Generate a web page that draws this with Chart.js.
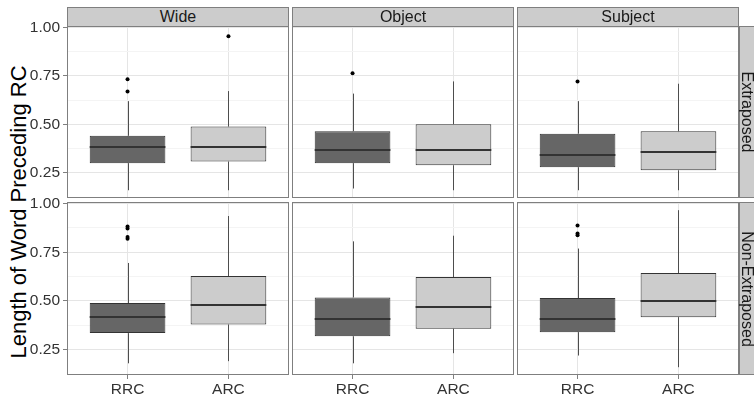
<!DOCTYPE html>
<html>
<head>
<meta charset="utf-8">
<script src="https://cdn.jsdelivr.net/npm/chart.js@4/dist/chart.umd.min.js"></script>
<style>
  body { margin: 0; background: #fff; font-family: "Liberation Sans", Arial, sans-serif; }
  #wrap { position: relative; width: 754px; height: 395px; overflow: hidden; background: #fff; }
  #wrap canvas { position: absolute; }
  .strip { position: absolute; box-sizing: border-box; border: 1px solid #7f7f7f; background: #cccccc;
           color: #1a1a1a; font-size: 16px; text-align: center; line-height: 18px; }
  .strip.side span { position: absolute; left: 50%; top: 50%; white-space: nowrap;
                     transform: translate(-50%, -50%) rotate(90deg); }
  #ytitle { position: absolute; left: 0; top: 67px; width: 38px; height: 290px;
            display: flex; align-items: center; justify-content: center; }
  #ytitle span { white-space: nowrap; font-size: 22px; line-height: 24px; color: #000; transform: rotate(-90deg); }
</style>
</head>
<body>
<div id="wrap">
  <div id="ytitle"><span>Length of Word Preceding RC</span></div>
</div>
<script>
// facets and groups
const facetCols = ["Wide", "Object", "Subject"];
const facetRows = ["Extraposed", "Non-Extraposed"];
const groups = ["RRC", "ARC"];

// y axis ticks
const yTicks = [0.25, 0.5, 0.75, 1.0];
const yTickLabels = ["0.25", "0.50", "0.75", "1.00"];
const yMinorTicks = [0.125, 0.375, 0.625, 0.875];
const yMin = 0.12;
const yMax = 1.008;

// box stats, one entry per panel (row by row), each [RRC, ARC]
const whiskerLow  = [[0.160, 0.160], [0.169, 0.160], [0.160, 0.160], [0.180, 0.191], [0.180, 0.232], [0.220, 0.160]];
const q1          = [[0.300, 0.308], [0.300, 0.289], [0.279, 0.263], [0.335, 0.379], [0.319, 0.357], [0.340, 0.417]];
const median      = [[0.381, 0.381], [0.370, 0.370], [0.341, 0.360], [0.417, 0.479], [0.409, 0.468], [0.409, 0.498]];
const q3          = [[0.441, 0.489], [0.465, 0.501], [0.452, 0.465], [0.489, 0.628], [0.518, 0.623], [0.515, 0.643]];
const whiskerHigh = [[0.620, 0.672], [0.659, 0.722], [0.620, 0.710], [0.695, 0.936], [0.806, 0.835], [0.769, 0.966]];
const outliers = [
  [[0.733, 0.670], [0.955]],
  [[0.764], []],
  [[0.722], []],
  [[0.882, 0.872, 0.828, 0.820], []],
  [[], []],
  [[0.888, 0.846, 0.837], []]
];

const boxFill = ["#666666", "#cccccc"];

// panel layout
const colLeft = [67, 292, 517];
const rowTop = [26, 202];
const panelW = 222;
const panelH = [172, 173];
const axisW = 67;
const axisH = 20;
const labelRoom = 10;

Chart.defaults.font.family = '"Liberation Sans", Arial, sans-serif';

const boxParts = {
  id: "boxParts",
  beforeDatasetsDraw(chart, args, opts) {
    const p = opts.panel;
    const y = chart.scales.y;
    const ctx = chart.ctx;
    ctx.save();
    ctx.strokeStyle = "#4d4d4d";
    ctx.lineWidth = 1;
    chart.getDatasetMeta(0).data.forEach((bar, i) => {
      const x = Math.round(bar.x) + 0.5;
      ctx.beginPath();
      ctx.moveTo(x, y.getPixelForValue(whiskerLow[p][i]));
      ctx.lineTo(x, y.getPixelForValue(q1[p][i]));
      ctx.moveTo(x, y.getPixelForValue(q3[p][i]));
      ctx.lineTo(x, y.getPixelForValue(whiskerHigh[p][i]));
      ctx.stroke();
    });
    ctx.restore();
  },
  afterDatasetsDraw(chart, args, opts) {
    const p = opts.panel;
    const y = chart.scales.y;
    const ctx = chart.ctx;
    ctx.save();
    ctx.strokeStyle = "#333333";
    ctx.lineWidth = 2;
    chart.getDatasetMeta(0).data.forEach((bar, i) => {
      const ym = Math.round(y.getPixelForValue(median[p][i]));
      ctx.beginPath();
      ctx.moveTo(bar.x - bar.width / 2, ym);
      ctx.lineTo(bar.x + bar.width / 2, ym);
      ctx.stroke();
    });
    // panel border
    const a = chart.chartArea;
    ctx.strokeStyle = "#7f7f7f";
    ctx.lineWidth = 1;
    ctx.strokeRect(a.left + 0.5, a.top + 0.5, a.right - a.left - 1, a.bottom - a.top - 1);
    ctx.restore();
  }
};

function makePanel(r, c) {
  const p = r * facetCols.length + c;
  const left = c === 0 ? 0 : colLeft[c];
  const padTop = c === 0 ? labelRoom : 0;
  const top = rowTop[r] - padTop;
  const width = (c === 0 ? axisW : 0) + panelW;
  const height = padTop + panelH[r] + (r === 1 ? axisH : 0);

  const canvas = document.createElement("canvas");
  canvas.width = width;
  canvas.height = height;
  canvas.style.left = left + "px";
  canvas.style.top = top + "px";
  canvas.style.width = width + "px";
  canvas.style.height = height + "px";
  document.getElementById("wrap").appendChild(canvas);

  const points = [];
  groups.forEach((g, i) => {
    outliers[p][i].forEach(v => points.push({ x: i + 1, y: v }));
  });

  const isMajor = v => yTicks.includes(v);

  new Chart(canvas.getContext("2d"), {
    type: "bar",
    data: {
      datasets: [{
        type: "bar",
        data: groups.map((g, i) => ({ x: i + 1, y: [q1[p][i], q3[p][i]] })),
        backgroundColor: boxFill,
        borderColor: "#333333",
        borderWidth: 1,
        borderSkipped: false,
        categoryPercentage: 1,
        barPercentage: 0.75
      }, {
        type: "scatter",
        data: points,
        pointRadius: 2,
        backgroundColor: "#000",
        borderWidth: 0
      }]
    },
    options: {
      responsive: false,
      animation: false,
      devicePixelRatio: 1,
      events: [],
      layout: { autoPadding: false, padding: { top: padTop, left: 0, right: 0, bottom: 0 } },
      plugins: {
        legend: { display: false },
        tooltip: { enabled: false },
        boxParts: { panel: p }
      },
      scales: {
        x: {
          type: "linear",
          min: 0.4,
          max: 2.6,
          offset: false,
          afterBuildTicks: s => { s.ticks = groups.map((g, i) => ({ value: i + 1 })); },
          afterFit: s => { s.height = r === 1 ? axisH : 0; s.paddingLeft = 0; s.paddingRight = 0; },
          ticks: {
            display: r === 1,
            autoSkip: false,
            maxRotation: 0,
            padding: 1,
            color: "#333",
            font: { size: 15.5 },
            callback: v => groups[v - 1]
          },
          grid: { offset: false, color: "#e5e5e5", drawTicks: r === 1, tickLength: 4, tickColor: "#7f7f7f" },
          border: { display: false }
        },
        y: {
          min: yMin,
          max: yMax,
          afterBuildTicks: s => {
            s.ticks = [...yMinorTicks, ...yTicks].sort((a, b) => a - b).map(v => ({ value: v }));
          },
          afterFit: s => { s.width = c === 0 ? axisW : 0; s.paddingTop = 0; s.paddingBottom = 0; },
          ticks: {
            display: c === 0,
            autoSkip: false,
            padding: 3,
            color: "#333",
            font: { size: 15.5 },
            callback: v => { const k = yTicks.indexOf(v); return k < 0 ? "" : yTickLabels[k]; }
          },
          grid: {
            color: ctx => (ctx.tick && isMajor(ctx.tick.value)) ? "#e5e5e5" : "#f4f4f4",
            drawTicks: c === 0,
            tickLength: 4,
            tickColor: ctx => (ctx.tick && isMajor(ctx.tick.value)) ? "#7f7f7f" : "rgba(0,0,0,0)"
          },
          border: { display: false }
        }
      }
    },
    plugins: [boxParts]
  });
}

facetRows.forEach((rowName, r) => {
  facetCols.forEach((colName, c) => makePanel(r, c));
});

// strips drawn as html on top of the panels
const wrap = document.getElementById("wrap");
facetCols.forEach((name, c) => {
  const d = document.createElement("div");
  d.className = "strip";
  d.style.left = colLeft[c] + "px";
  d.style.top = "7px";
  d.style.width = panelW + "px";
  d.style.height = "20px";
  d.textContent = name;
  wrap.appendChild(d);
});
facetRows.forEach((name, r) => {
  const d = document.createElement("div");
  d.className = "strip side";
  d.style.left = (colLeft[2] + panelW) + "px";
  d.style.top = rowTop[r] + "px";
  d.style.width = "16px";
  d.style.height = panelH[r] + "px";
  const s = document.createElement("span");
  s.textContent = name;
  d.appendChild(s);
  wrap.appendChild(d);
});
</script>
</body>
</html>
